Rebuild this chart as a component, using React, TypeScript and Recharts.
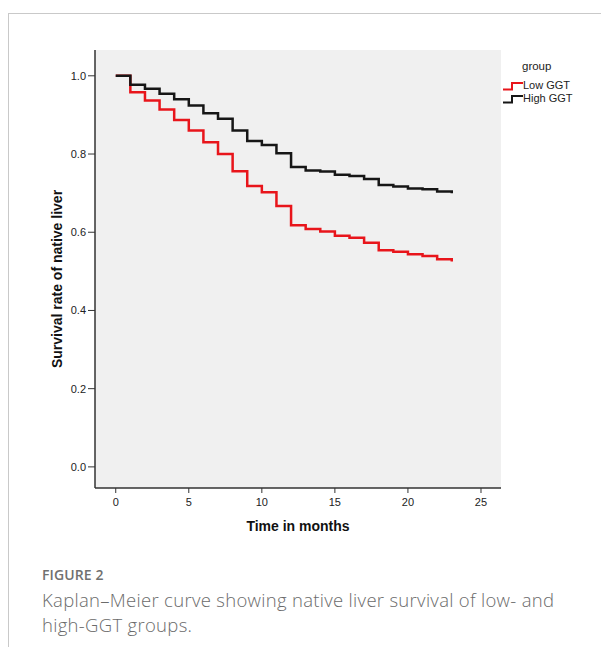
import { LineChart, Line, XAxis, YAxis, CartesianGrid, Legend } from 'recharts';

// Months from inclusion, one step per month
const months = [0, 1, 2, 3, 4, 5, 6, 7, 8, 9, 10, 11, 12, 13, 14, 15, 16, 17, 18, 19, 20, 21, 22, 23];

// Survival
const lowGGT = [
  1.0, 0.958, 0.937, 0.914, 0.887, 0.86, 0.83, 0.8, 0.756, 0.718, 0.702, 0.667,
  0.618, 0.608, 0.602, 0.591, 0.586, 0.573, 0.554, 0.55, 0.544, 0.539, 0.531, 0.525,
];
const highGGT = [
  1.0, 0.977, 0.967, 0.954, 0.94, 0.924, 0.904, 0.89, 0.86, 0.833, 0.823, 0.802,
  0.767, 0.758, 0.755, 0.747, 0.744, 0.736, 0.721, 0.717, 0.712, 0.71, 0.704, 0.7,
];

const groupNames = ['Low GGT', 'High GGT'];

const xTicks = [0, 5, 10, 15, 20, 25];
const yTicks = [0, 0.2, 0.4, 0.6, 0.8, 1.0];

const X_DOMAIN = [-1.42, 26.37]; // SPSS pads the axes a bit
const Y_DOMAIN = [-0.054, 1.066];

const FONT = "Arial, 'Liberation Sans', sans-serif";
const AXIS_COLOR = '#333';

const data = months.map((m, i) => ({ month: m, low: lowGGT[i], high: highGGT[i] }));

function LegendBox({ payload }: any) {
  // keep the series order (recharts sorts by name otherwise)
  const items = [...(payload || [])].sort(
    (a: any, b: any) => groupNames.indexOf(a.value) - groupNames.indexOf(b.value)
  );
  return (
    <div style={{ fontFamily: FONT, fontSize: 11, color: '#222' }}>
      <div style={{ marginLeft: 19, fontSize: 11.5, marginBottom: 7 }}>group</div>
      {items.map((p: any) => (
        <div key={p.value} style={{ display: 'flex', alignItems: 'center', height: 13 }}>
          <svg width={20} height={10} style={{ display: 'block' }}>
            <path d="M0 8.5 H9 V2 H20" fill="none" stroke={p.color} strokeWidth={2} />
          </svg>
          <span style={{ lineHeight: '13px' }}>{p.value}</span>
        </div>
      ))}
    </div>
  );
}

export default function App() {
  return (
    <div
      style={{
        position: 'relative',
        width: 609,
        height: 655,
        margin: -8,
        overflow: 'hidden',
        background: '#fff',
      }}
    >
      <div
        style={{
          position: 'absolute',
          left: 8,
          top: 13,
          width: 700,
          height: 700,
          borderLeft: '1px solid #c9c9c9',
          borderTop: '1px solid #c9c9c9',
        }}
      />
      <div style={{ position: 'absolute', left: 0, top: 0 }}>
        <LineChart
          width={609}
          height={560}
          data={data}
          margin={{ top: 50, right: 108, bottom: 32, left: 35 }}
          style={{ fontFamily: FONT }}
        >
          <CartesianGrid horizontal={false} vertical={false} fill="#f0f0f0" />
          <XAxis
            dataKey="month"
            type="number"
            domain={X_DOMAIN}
            ticks={xTicks}
            allowDataOverflow
            height={40}
            tickSize={5}
            tickMargin={5}
            tick={{ fontSize: 11, fill: '#222' }}
            axisLine={{ stroke: AXIS_COLOR, strokeWidth: 1.5 }}
            tickLine={{ stroke: AXIS_COLOR }}
            label={{
              content: ({ viewBox }: any) => (
                <text
                  x={viewBox.x + viewBox.width / 2}
                  y={viewBox.y + 38}
                  textAnchor="middle"
                  dominantBaseline="central"
                  fontSize={14}
                  fontWeight="bold"
                  fill="#111"
                >
                  Time in months
                </text>
              ),
            }}
          />
          <XAxis
            xAxisId="top"
            orientation="top"
            type="number"
            domain={X_DOMAIN}
            allowDataOverflow
            height={0}
            tick={false}
            tickLine={false}
            axisLine={{ stroke: AXIS_COLOR, strokeWidth: 1.5 }}
          />
          <YAxis
            type="number"
            domain={Y_DOMAIN}
            ticks={yTicks}
            allowDataOverflow
            width={60}
            tickSize={7}
            tickMargin={2}
            tickFormatter={(v: number) => v.toFixed(1)}
            tick={{ fontSize: 11, fill: '#222' }}
            axisLine={{ stroke: AXIS_COLOR, strokeWidth: 1.5 }}
            tickLine={{ stroke: AXIS_COLOR }}
            label={{
              content: ({ viewBox }: any) => {
                const cx = viewBox.x + 22;
                const cy = 279;
                return (
                  <text
                    x={cx}
                    y={cy}
                    transform={`rotate(-90 ${cx} ${cy})`}
                    textAnchor="middle"
                    dominantBaseline="central"
                    fontSize={14}
                    fontWeight="bold"
                    fill="#111"
                  >
                    Survival rate of native liver
                  </text>
                );
              },
            }}
          />
          <YAxis
            yAxisId="right"
            orientation="right"
            type="number"
            domain={Y_DOMAIN}
            allowDataOverflow
            width={0}
            tick={false}
            tickLine={false}
            axisLine={{ stroke: AXIS_COLOR, strokeWidth: 1.5 }}
          />
          <Legend
            layout="vertical"
            align="center"
            verticalAlign="middle"
            content={<LegendBox />}
            wrapperStyle={{ left: 503, top: 60, width: 100 }}
          />
          <Line
            type="stepAfter"
            dataKey="low"
            name={groupNames[0]}
            stroke="#e8151b"
            strokeWidth={2.5}
            dot={false}
            isAnimationActive={false}
          />
          <Line
            type="stepAfter"
            dataKey="high"
            name={groupNames[1]}
            stroke="#161616"
            strokeWidth={2.5}
            dot={false}
            isAnimationActive={false}
          />
        </LineChart>
      </div>
      <div
        style={{
          position: 'absolute',
          left: 42,
          top: 565,
          fontFamily: "'Open Sans', sans-serif",
          color: '#6b6b6b',
        }}
      >
        <div style={{ fontSize: 14, fontWeight: 600, letterSpacing: 0.1, color: '#707070' }}>FIGURE 2</div>
        <div style={{ fontSize: 18.5, fontWeight: 300, letterSpacing: 0.3, lineHeight: '25px', marginTop: 3 }}>
          Kaplan–Meier curve showing native liver survival of low- and
          <br />
          high-GGT groups.
        </div>
      </div>
    </div>
  );
}
